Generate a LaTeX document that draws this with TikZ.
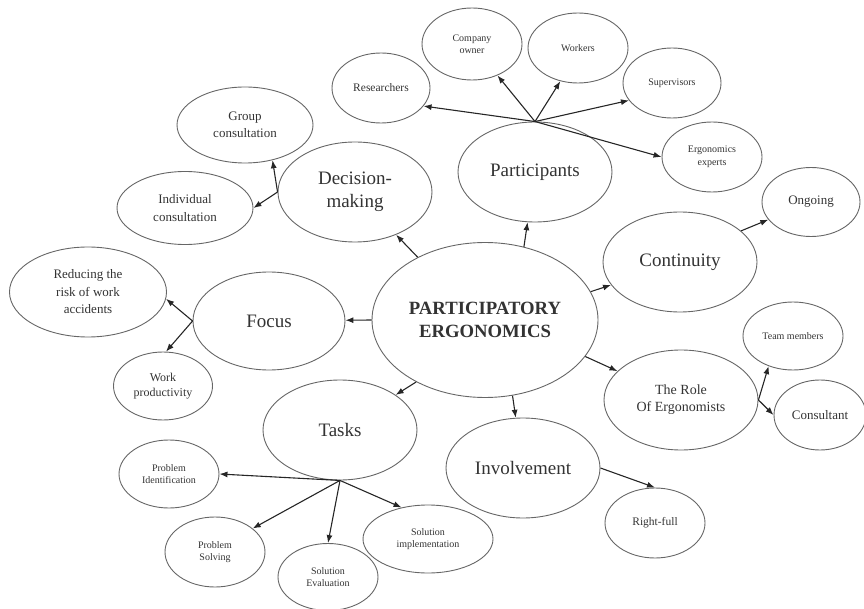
\documentclass[tikz,border=0pt]{standalone}
\usepackage{fontspec}
\setmainfont{Liberation Serif}
\usetikzlibrary{arrows.meta,shapes.geometric}

\begin{document}
\begin{tikzpicture}[-{Latex[length=8pt,width=6pt]}, x=1pt, y=-1pt,
      line width=1.1pt, color=black!85,
      every node/.append style={ellipse,draw=black!60,line width=0.9pt,inner sep=0pt,align=center,text=black!80}]
    \tikzstyle{hub} = [minimum width=226pt,minimum height=155pt,font=\bfseries\fontsize{18.7}{23}\selectfont]
    \tikzstyle{topic} = [minimum width=154pt,minimum height=100pt,font=\fontsize{19}{23}\selectfont]
    \tikzstyle{idea} = [minimum width=136pt,minimum height=75pt,font=\fontsize{13}{17.5}\selectfont]
    \tikzstyle{item} = [minimum width=100pt,minimum height=70pt,font=\fontsize{10}{12.5}\selectfont]
    \useasboundingbox (0,0) rectangle (864,609);
    % centre and the seven topics
    \node (pe) [hub] at (485,320) {PARTICIPATORY\\ERGONOMICS};
    \node (part) [topic] at (535,172) {Participants};
    \node (dec) [topic] at (355,192) {Decision-\\making};
    \node (focus) [topic,minimum width=152pt,minimum height=98pt] at (269,321) {Focus};
    \node (cont) [topic] at (680,262) {Continuity};
    \node (role) [topic,font=\fontsize{14}{17}\selectfont] at (681,400) {The Role\\Of Ergonomists};
    \node (task) [topic] at (340,430) {Tasks};
    \node (inv) [topic] at (523,468) {Involvement};
    % leaves
    \node (res) [item,minimum width=98pt,font=\fontsize{11.5}{14}\selectfont] at (381,88) {Researchers};
    \node (comp) [item,minimum height=72pt] at (472,44) {Company\\owner};
    \node (wrk) [item] at (578,48) {Workers};
    \node (sup) [item,minimum width=98pt] at (672,83) {Supervisors};
    \node (ergo) [item] at (712,157) {Ergonomics\\experts};
    \node (grp) [idea,minimum height=76pt] at (245,125) {Group\\consultation};
    \node (indiv) [idea,minimum height=73pt] at (185,208) {Individual\\consultation};
    \node (risk) [idea,minimum width=157pt,minimum height=90pt] at (88,292) {Reducing the\\risk of work\\accidents};
    \node (prod) [item,minimum width=99pt,minimum height=68pt,font=\fontsize{12}{15}\selectfont] at (163,386) {Work\\productivity};
    \node (ong) [idea,minimum width=98pt,minimum height=69pt] at (811,202) {Ongoing};
    \node (team) [item,minimum height=68pt] at (793,336) {Team members};
    \node (cons) [idea,minimum width=92pt,minimum height=70pt] at (820,415) {Consultant};
    \node (pid) [item,minimum height=68pt] at (169,474) {Problem\\Identification};
    \node (psolv) [item] at (215,552) {Problem\\Solving};
    \node (seval) [item,minimum height=67pt] at (328,577) {Solution\\Evaluation};
    \node (simpl) [item,minimum width=130pt,minimum height=68pt] at (428,539) {Solution\\implementation};
    \node (rfull) [item,font=\fontsize{11.5}{14}\selectfont] at (655,523) {Right-full};
    % centre to topics
    \draw (pe.62) -- (part);
    \draw (pe.137) -- (dec);
    \draw (pe.west) -- (focus);
    \draw (pe.15) -- (cont);
    \draw (pe.340) -- (role);
    \draw (pe.222) -- (task);
    \draw (pe.290) -- (inv);
    % topics to leaves
    \draw (part.north) -- (res.337);
    \draw (part.north) -- (comp.309);
    \draw (part.north) -- (wrk.242);
    \draw (part.north) -- (sup.202);
    \draw (part.north) -- (ergo.west);
    \draw (dec.west) -- (grp.308);
    \draw (dec.west) -- (indiv.east);
    \draw (focus.west) -- (risk.355);
    \draw (focus.west) -- (prod.85);
    \draw (cont.27) -- (ong);
    \draw (role.east) -- (team.231);
    \draw (role.east) -- (cons.west);
    \draw (task.south) -- (pid.east);
    \draw (task.south) -- (psolv.32);
    \draw (task.south) -- (seval.north);
    \draw (task.south) -- (simpl.130);
    \draw (inv.east) -- (rfull.north);
\end{tikzpicture}
\end{document}
